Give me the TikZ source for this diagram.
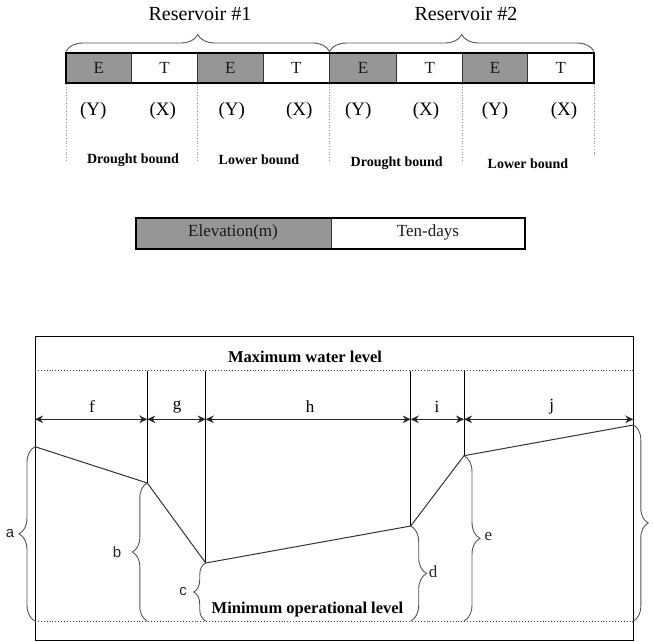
\documentclass[tikz,border=0pt]{standalone}
\usepackage{fontspec}
\setmainfont{Liberation Serif}
\newfontfamily\lsans{Liberation Sans}
\usetikzlibrary{decorations.pathreplacing,arrows.meta}
\definecolor{cellgray}{RGB}{150,150,150}
\definecolor{brgray}{RGB}{85,85,85}
\begin{document}
\begin{tikzpicture}[x=1pt,y=-1pt,
  title/.style={font=\fontsize{20}{24}\selectfont, inner sep=0},
  celltxt/.style={font=\fontsize{17}{19}\selectfont, text=black!90, inner sep=0},
  eye/.style={font=\fontsize{19}{22}\selectfont, inner sep=0},
  bnd/.style={font=\bfseries\fontsize{14}{16}\selectfont, inner sep=0},
  lvl/.style={font=\bfseries\fontsize{16.5}{19}\selectfont, inner sep=0},
  seg/.style={font=\fontsize{17}{20}\selectfont, inner sep=0},
  sidelbl/.style={font=\lsans\fontsize{15}{18}\selectfont, text=black!85, inner sep=0},
  sidelbls/.style={font=\fontsize{17}{19}\selectfont, text=black!85, inner sep=0},
  gfill/.style={fill=cellgray},
  divline/.style={draw=black!80, line width=0.8pt},
  outer/.style={draw=black, line width=2.2pt},
  guide/.style={draw=black!40, dotted, line width=0.7pt},
  level/.style={draw=black!75, dotted, line width=0.9pt},
  frame/.style={draw=black, line width=1pt},
  post/.style={draw=black, line width=1pt},
  profile/.style={draw=black!80, line width=1pt},
  dim/.style={{Stealth[length=8pt,width=7.5pt]}-{Stealth[length=8pt,width=7.5pt]}, line width=1.6pt, draw=black!85},
  brc/.style={decorate, decoration={brace, amplitude=#1, aspect=0.5}, draw=brgray, line width=0.9pt},
  brc/.default=15pt
]
\useasboundingbox (0,0) rectangle (653,641);

% ---------- top bar ----------
\foreach \xa/\xb in {66/131.7, 197.3/263.3, 329.3/396.7, 462.7/527.3}
  \fill[gfill] (\xa,53.3) rectangle (\xb,82.7);
\foreach \xx in {131.7,197.3,263.3,329.3,396.7,462.7,527.3}
  \draw[divline] (\xx,53.3) -- (\xx,82.7);
\draw[outer] (66,53.3) rectangle (594,82.7);

\node[celltxt] (e1) at (98.9,67.5) {E};
\node[celltxt] (t1) at (164.5,67.5) {T};
\node[celltxt] (e2) at (230.3,67.5) {E};
\node[celltxt] (t2) at (296.3,67.5) {T};
\node[celltxt] (e3) at (363,67.5) {E};
\node[celltxt] (t3) at (429.7,67.5) {T};
\node[celltxt] (e4) at (495,67.5) {E};
\node[celltxt] (t4) at (560.7,67.5) {T};

% braces and titles
\coordinate (b1s) at (66,51.5);
\coordinate (b1e) at (329.5,51.5);
\coordinate (b2e) at (594,51.5);
\draw[brc=17pt] (b1s) -- (b1e);
\draw[brc=17pt] (b1e) -- (b2e);
\node[title] (r1) at (200,14) {Reservoir \#1};
\node[title] (r2) at (466,14) {Reservoir \#2};

% dotted guides
\foreach \xx/\yy in {66/160, 197.5/160, 329.5/160, 462.3/160, 594/155}
  \draw[guide] (\xx,84) -- (\xx,\yy);

\node[eye] (y1) at (93.3,111) {(Y)};
\node[eye] (x1) at (162.7,111) {(X)};
\node[eye] (y2) at (231.7,111) {(Y)};
\node[eye] (x2) at (299.3,111) {(X)};
\node[eye] (y3) at (358.3,111) {(Y)};
\node[eye] (x3) at (426,111) {(X)};
\node[eye] (y4) at (495,111) {(Y)};
\node[eye] (x4) at (564,111) {(X)};

\node[bnd] (d1) at (133,160) {Drought bound};
\node[bnd] (l1) at (259,160) {Lower bound};
\node[bnd] (d2) at (396.7,162.7) {Drought bound};
\node[bnd] (l2) at (528,164) {Lower bound};

% ---------- legend bar ----------
\fill[gfill] (136,218.3) rectangle (331.7,249.3);
\draw[divline] (331.7,218.3) -- (331.7,249.3);
\draw[outer] (136,218.3) rectangle (525,249.3);
\node[celltxt] (elev) at (233,232.5) {Elevation(m)};
\node[celltxt] (tend) at (428,232.5) {Ten-days};

% ---------- bottom diagram ----------
\draw[frame] (35,336.7) rectangle (633.3,640);
\draw[level] (35,370.7) -- (633.3,370.7);
\draw[level] (35,621) -- (633.3,621);
\node[lvl] (maxl) at (305,357) {Maximum water level};
\node[lvl] (minl) at (307.5,610) {Minimum operational level};

% profile points
\coordinate (p0) at (35,446.7);
\coordinate (p1) at (147.3,483);
\coordinate (p2) at (205.7,563);
\coordinate (p3) at (410.7,526);
\coordinate (p4) at (464,455.7);
\coordinate (p5) at (633.3,425);
% tops of posts
\coordinate (q0) at (35,419.3);
\coordinate (q1) at (147.3,370.7);
\coordinate (q2) at (205.7,370.7);
\coordinate (q3) at (410.7,370.7);
\coordinate (q4) at (464,370.7);
\coordinate (q5) at (633.3,419.3);
\draw[post] (q1) -- (p1);
\draw[post] (q2) -- (p2);
\draw[post] (q3) -- (p3);
\draw[post] (q4) -- (p4);
\draw[profile] (p0) -- (p1) -- (p2) -- (p3) -- (p4) -- (p5);

% dimension arrows
\coordinate (m1) at (147.3,419.3);
\coordinate (m2) at (205.7,419.3);
\coordinate (m3) at (410.7,419.3);
\coordinate (m4) at (464,419.3);
\draw[dim] (q0) -- (m1);
\draw[dim] (m1) -- (m2);
\draw[dim] (m2) -- (m3);
\draw[dim] (m3) -- (m4);
\draw[dim] (m4) -- (q5);
\node[seg] (f) at (92,407) {f};
\node[seg] (g) at (177,407) {g};
\node[seg] (h) at (310,407) {h};
\node[seg] (i) at (437,407) {i};
\node[seg] (j) at (551.7,407) {j};

% braces
\coordinate (z0) at (35,621);
\coordinate (z1) at (147.3,621);
\coordinate (z2) at (205.7,621);
\coordinate (z3) at (410.7,621);
\coordinate (z4) at (464,621);
\coordinate (z5) at (633.3,621);
\draw[brc=16pt] (z0) -- (p0);
\draw[brc=15pt] (z1) -- (p1);
\draw[brc=12pt] (z2) -- (p2);
\draw[brc=16pt] (p3) -- (z3);
\draw[brc=16pt] (p4) -- (z4);
\draw[brc=15pt] (p5) -- (z5);
\node[sidelbl] (la) at (10,534) {a};
\node[sidelbl] (lb) at (117,552) {b};
\node[sidelbl] (lc) at (183,592) {c};
\node[sidelbls] (ld) at (433,572) {d};
\node[sidelbls] (le) at (488.5,537) {e};
\end{tikzpicture}
\end{document}
